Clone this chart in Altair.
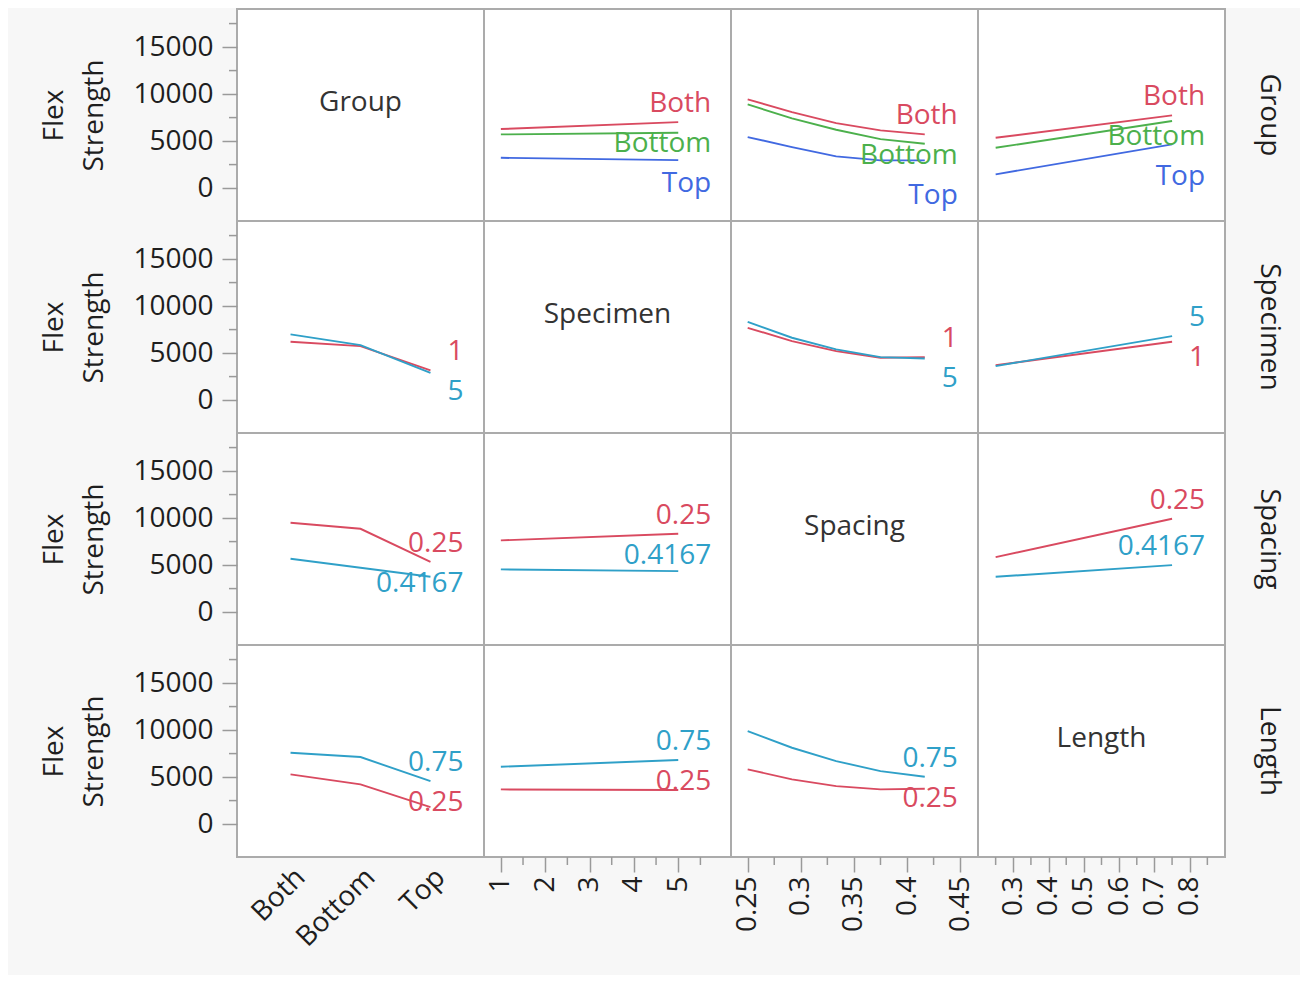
import altair as alt
import pandas as pd

# ---------------- data ----------------
factors = ["Group", "Specimen", "Spacing", "Length"]

group_levels = ["Both", "Bottom", "Top"]
specimen_x = [1, 5]
spacing_x = [0.25, 0.2917, 0.3333, 0.375, 0.4167]
length_x = [0.25, 0.75]

group_traces = ["Both", "Bottom", "Top"]
specimen_traces = ["1", "5"]
spacing_traces = ["0.25", "0.4167"]
length_traces = ["0.25", "0.75"]

# row "Group": one list per Group level (Both, Bottom, Top)
group_by_specimen = [[6280, 7020], [5710, 5880], [3220, 2980]]
group_by_spacing = [[9436, 8085, 6915, 6138, 5709],
                    [8900, 7415, 6202, 5213, 4713],
                    [5425, 4362, 3372, 2947, 2947]]
group_by_length = [[5350, 7730], [4290, 7130], [1460, 4650]]

# row "Specimen": Specimen 1, Specimen 5
specimen_by_group = [[6200, 5745, 3160], [6990, 5850, 2900]]
specimen_by_spacing = [[7690, 6280, 5210, 4500, 4575],
                       [8330, 6630, 5390, 4575, 4430]]
specimen_by_length = [[3720, 6200], [3620, 6810]]

# row "Spacing": Spacing 0.25, Spacing 0.4167
spacing_by_group = [[9500, 8860, 5350], [5670, 4710, 3755]]
spacing_by_specimen = [[7630, 8330], [4540, 4360]]
spacing_by_length = [[5850, 9930], [3755, 5000]]

# row "Length": Length 0.25, Length 0.75
length_by_group = [[5290, 4220, 1800], [7585, 7130, 4575]]
length_by_specimen = [[3690, 3620], [6100, 6810]]
length_by_spacing = [[5820, 4750, 4040, 3690, 3760],
                     [9894, 8120, 6700, 5640, 5035]]

# tick values
y_major = [0, 5000, 10000, 15000]
y_minor = [2500, 7500, 12500, 17500]
specimen_major = [1, 2, 3, 4, 5]
specimen_minor = [1.5, 2.5, 3.5, 4.5, 5.5]
spacing_major = [0.25, 0.3, 0.35, 0.4, 0.45]
spacing_minor = [0.275, 0.325, 0.375, 0.425]
length_major = [0.3, 0.4, 0.5, 0.6, 0.7, 0.8]
length_minor = [0.25, 0.35, 0.45, 0.55, 0.65, 0.75, 0.85]

# ---------------- styling / layout ----------------
FONT = "Open Sans"
FS = 28
RED = "#D94A60"
GREEN = "#4CB04C"
BLUE = "#4169E1"
CYAN = "#2FA0C8"
INK = "#1E1E1E"
TICK = "#9A9A9A"
FRAME = "#ABABAB"

W, H = 247, 212
Y_DOMAIN = [-3500, 19050]
PX = (Y_DOMAIN[1] - Y_DOMAIN[0]) / H

x_values = {"Group": group_levels, "Specimen": specimen_x,
            "Spacing": spacing_x, "Length": length_x}
trace_levels = {"Group": group_traces, "Specimen": specimen_traces,
                "Spacing": spacing_traces, "Length": length_traces}
trace_colors = {"Group": [RED, GREEN, BLUE], "Specimen": [RED, CYAN],
                "Spacing": [RED, CYAN], "Length": [RED, CYAN]}
series = {
    ("Group", "Specimen"): group_by_specimen,
    ("Group", "Spacing"): group_by_spacing,
    ("Group", "Length"): group_by_length,
    ("Specimen", "Group"): specimen_by_group,
    ("Specimen", "Spacing"): specimen_by_spacing,
    ("Specimen", "Length"): specimen_by_length,
    ("Spacing", "Group"): spacing_by_group,
    ("Spacing", "Specimen"): spacing_by_specimen,
    ("Spacing", "Length"): spacing_by_length,
    ("Length", "Group"): length_by_group,
    ("Length", "Specimen"): length_by_specimen,
    ("Length", "Spacing"): length_by_spacing,
}
x_major = {"Specimen": specimen_major, "Spacing": spacing_major, "Length": length_major}
x_minor = {"Specimen": specimen_minor, "Spacing": spacing_minor, "Length": length_minor}

x_scales = {
    "Group": alt.Scale(type="point", domain=group_levels, padding=0.765),
    "Specimen": alt.Scale(domain=[0.62, 6.19], nice=False, zero=False),
    "Spacing": alt.Scale(domain=[0.2343, 0.4668], nice=False, zero=False),
    "Length": alt.Scale(domain=[0.2, 0.9], nice=False, zero=False),
}
y_scale = alt.Scale(domain=Y_DOMAIN, nice=False, zero=False)


def x_enc(col, show):
    if col == "Group":
        ax = alt.Axis(title=None, labelAngle=315, ticks=False, labelPadding=6,
                      labelOffset=0, domain=False) if show else None
        return alt.X("x:N", scale=x_scales[col], sort=group_levels, axis=ax)
    ax = alt.Axis(title=None, values=x_major[col], format="~g", labelAngle=270,
                  tickSize=15, labelPadding=4, domain=False) if show else None
    return alt.X("x:Q", scale=x_scales[col], axis=ax)


def y_enc(show):
    ax = alt.Axis(values=y_major, format="d", tickSize=15, labelPadding=9,
                  title=["Flex", "Strength"], titlePadding=24, titleLineHeight=40,
                  domain=False) if show else None
    return alt.Y("y:Q", scale=y_scale, axis=ax)


def label_y(ends):
    order = sorted(range(len(ends)), key=lambda i: -ends[i])
    pos = [0.0] * len(ends)
    prev = None
    for i in order:
        want = ends[i] + 18 * PX
        if prev is not None:
            want = min(want, prev - 40 * PX)
        pos[i] = want
        prev = want
    return pos


def panel(r, c):
    rf, cf = factors[r], factors[c]
    show_x = r == len(factors) - 1
    show_y = c == 0
    X = x_enc(cf, show_x)
    Y = y_enc(show_y)
    layers = []
    if rf == cf:
        base = pd.DataFrame({"x": [x_values[cf][0]], "y": [0]})
        layers.append(alt.Chart(base).mark_point(opacity=0).encode(x=X, y=Y))
        layers.append(
            alt.Chart(pd.DataFrame({"t": [cf]})).mark_text(
                font=FONT, fontSize=FS, color="#333333", baseline="middle", align="center"
            ).encode(x=alt.value(W / 2), y=alt.value(94), text="t:N")
        )
    else:
        levels = trace_levels[rf]
        vals = series[(rf, cf)]
        xs = x_values[cf]
        rows = []
        for lvl, ys in zip(levels, vals):
            for xv, yv in zip(xs, ys):
                rows.append({"x": xv, "y": yv, "trace": lvl})
        df = pd.DataFrame(rows)
        color = alt.Color("trace:N", scale=alt.Scale(domain=levels, range=trace_colors[rf]),
                          legend=None)
        layers.append(alt.Chart(df).mark_line(strokeWidth=1.9).encode(
            x=X, y=Y, color=color, detail="trace:N"))
        ends = [ys[-1] for ys in vals]
        ly = label_y(ends)
        lab = pd.DataFrame({"x": [xs[-1]] * len(levels), "y": ly, "trace": levels})
        layers.append(alt.Chart(lab).mark_text(
            font=FONT, fontSize=FS, align="right", baseline="middle", dx=33
        ).encode(x=X, y=Y, color=color, text="trace:N"))
    # minor ticks
    if show_y:
        layers.append(alt.Chart(pd.DataFrame({"y": y_minor})).mark_rule(
            color=TICK, strokeWidth=1.5).encode(x=alt.value(-8), x2=alt.value(0), y=Y))
    if show_x and cf != "Group":
        layers.append(alt.Chart(pd.DataFrame({"x": x_minor[cf]})).mark_rule(
            color=TICK, strokeWidth=1.5).encode(x=X, y=alt.value(H), y2=alt.value(H + 8)))
    if c == len(factors) - 1:
        layers.append(
            alt.Chart(pd.DataFrame({"t": [rf]})).mark_text(
                font=FONT, fontSize=FS, color=INK, angle=90, align="center", baseline="middle"
            ).encode(x=alt.value(W + 44), y=alt.value(H / 2), text="t:N")
        )
    return alt.layer(*layers).properties(width=W, height=H)


panels = [panel(r, c) for r in range(4) for c in range(4)]

chart = alt.concat(*panels, columns=4, spacing=0, bounds="flush", align="each").resolve_scale(
    color="independent"
).properties(
    background="#F7F7F7",
    padding={"left": 31, "top": 0, "right": 16, "bottom": 22},
).configure_view(
    stroke=FRAME, strokeWidth=2, fill="white"
).configure_axis(
    labelFont=FONT, labelFontSize=FS, labelColor=INK,
    titleFont=FONT, titleFontSize=FS, titleColor=INK, titleFontWeight="normal",
    tickColor=TICK, tickWidth=1.5, grid=False, domain=False,
)

chart.save("out.html", embed_options={"renderer": "svg", "actions": False})
